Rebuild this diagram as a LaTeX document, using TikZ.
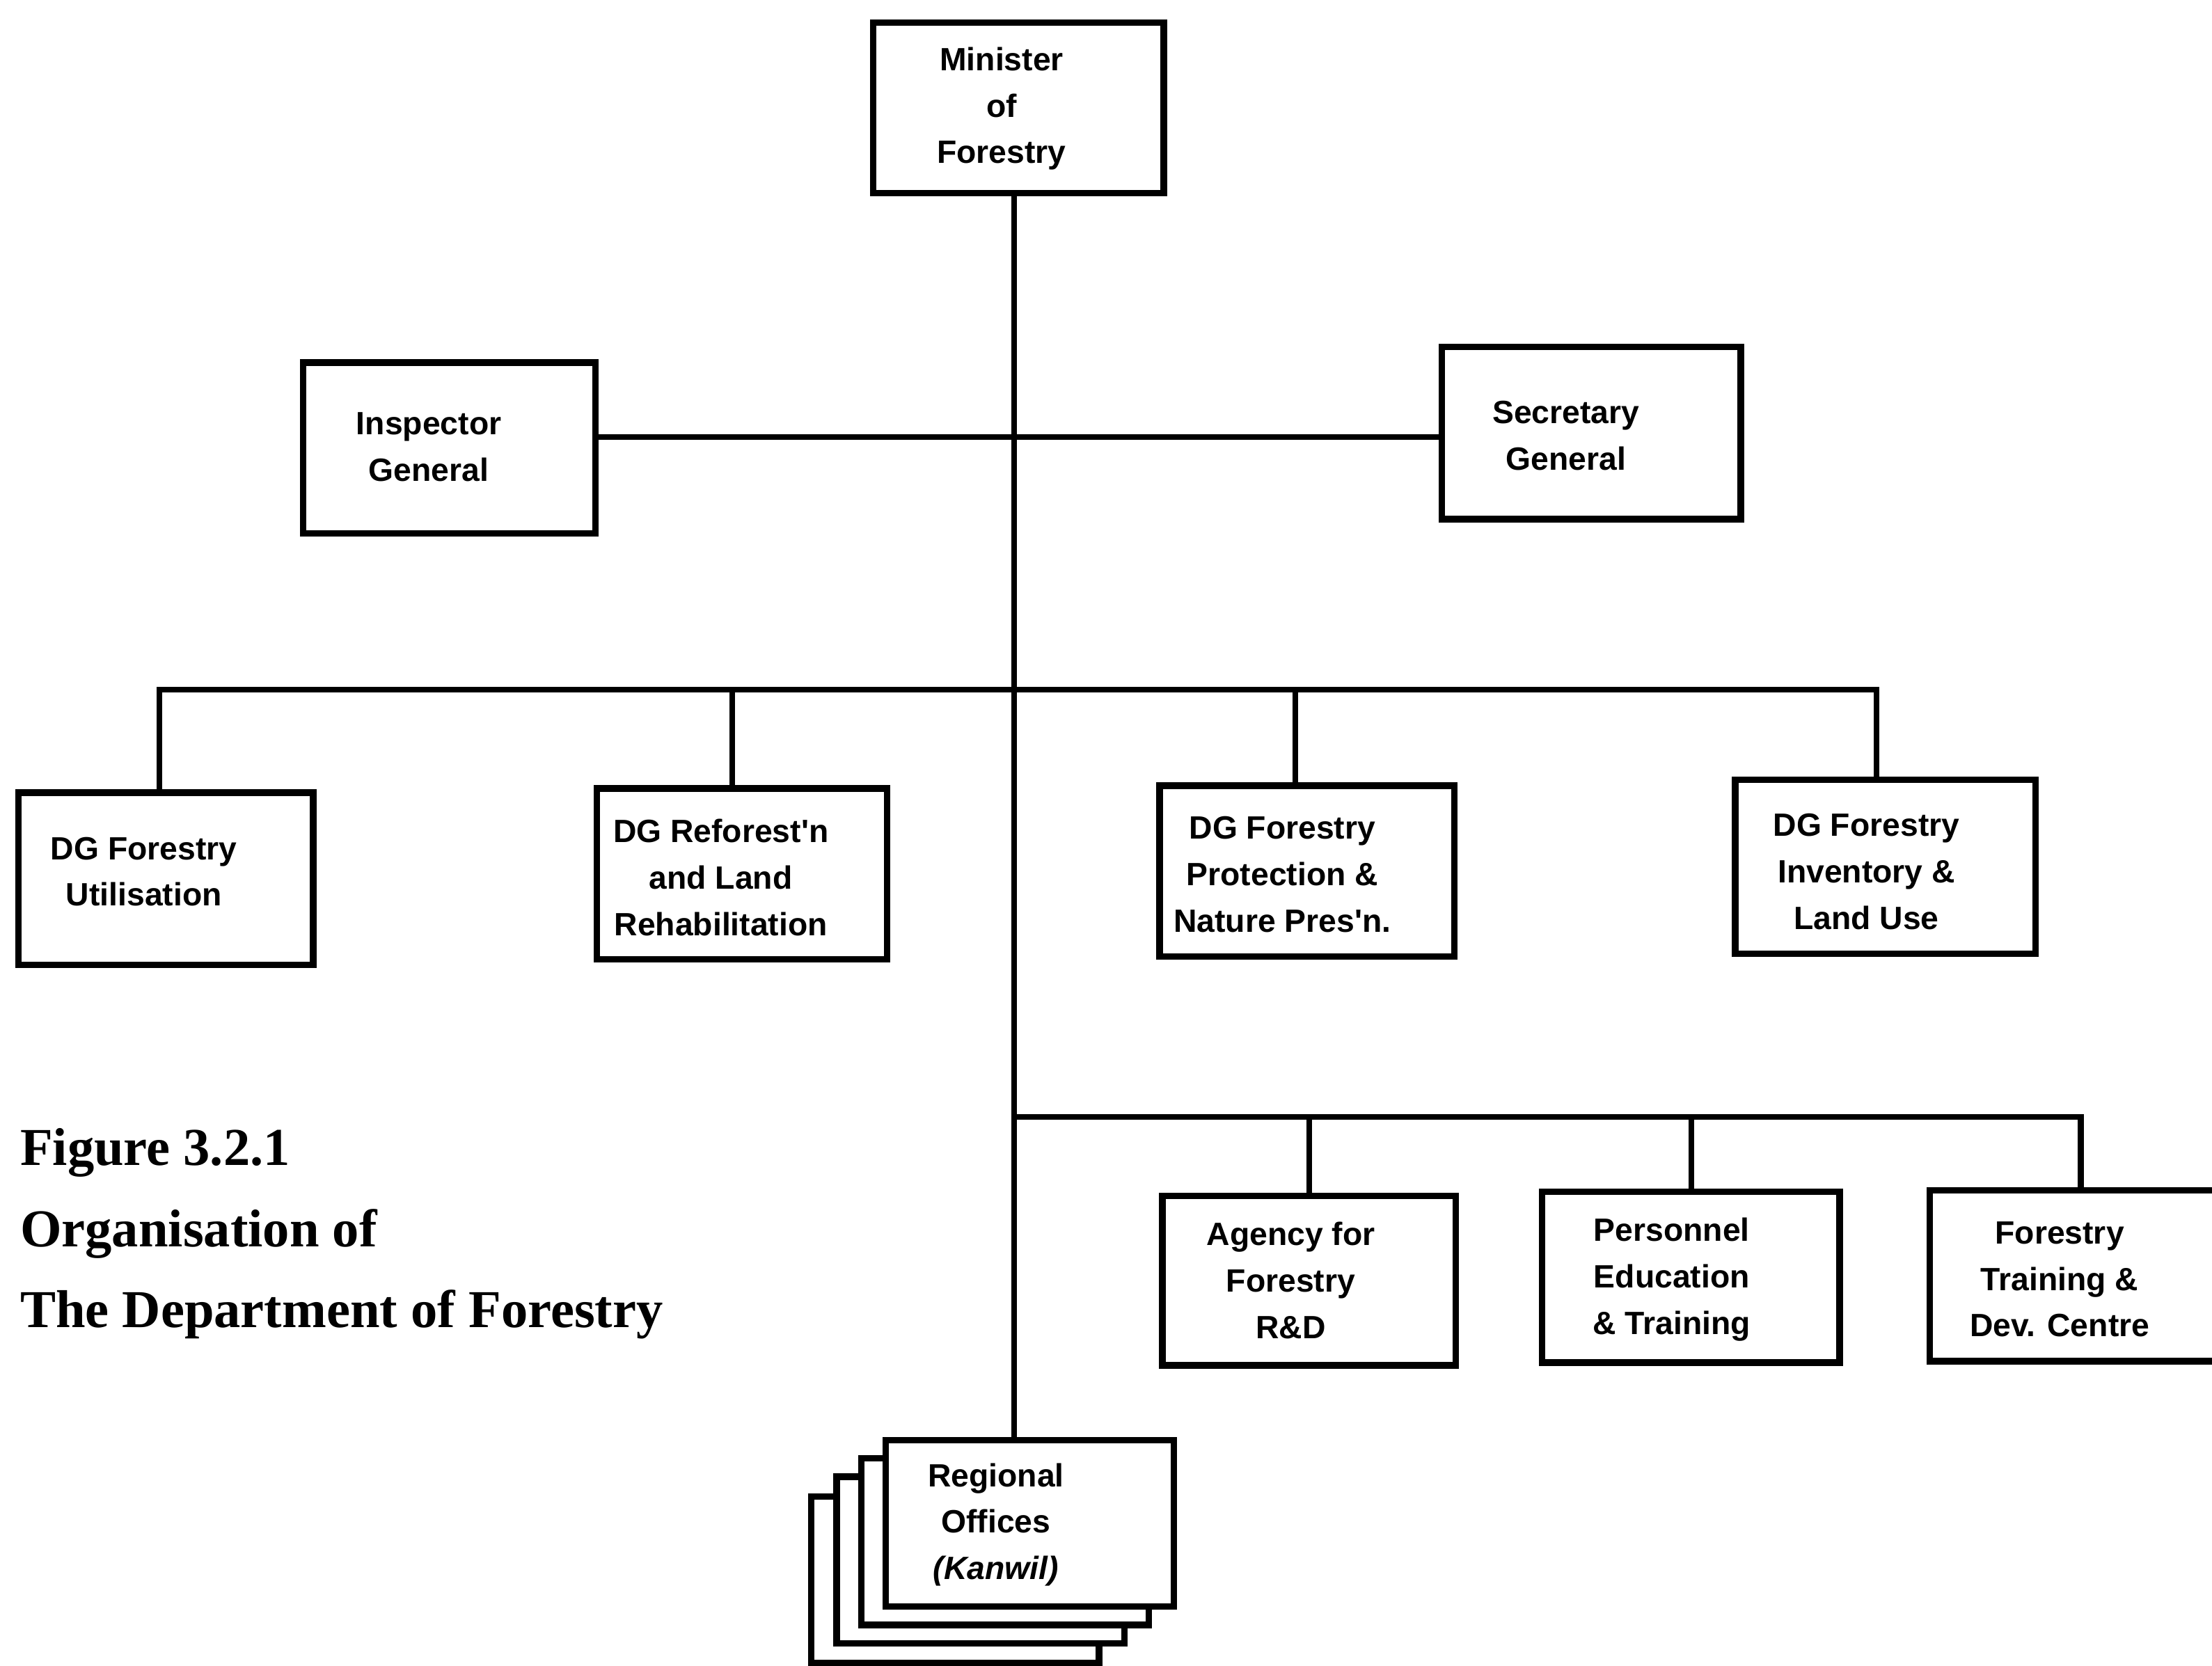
\documentclass[tikz,border=0pt]{standalone}
\usepackage{fontspec}
\setmainfont{Liberation Serif}
\newfontfamily\boxfont{Liberation Sans}
\tikzset{
  orgbox/.style={draw=black, line width=2.6pt, fill=white, rectangle, inner sep=0pt},
  orgtext/.style={font=\boxfont\bfseries\fontsize{13}{18.8}\selectfont, align=center, inner sep=0pt},
  link/.style={draw=black, line width=2.3pt},
  captext/.style={font=\bfseries\fontsize{21.5}{33}\selectfont, anchor=base west, inner sep=0pt}
}
\begin{document}
\begin{tikzpicture}[x=0.02cm,y=-0.02cm]
\clip (0,0) rectangle (1568,1181);
\fill[white] (0,0) rectangle (1568,1181);

% boxes
\node[orgbox, minimum width=206*0.02cm, minimum height=121*0.02cm] (min) at (722,76.5) {};
\node[orgbox, minimum width=207*0.02cm, minimum height=121*0.02cm] (ig) at (318.5,317.5) {};
\node[orgbox, minimum width=212*0.02cm, minimum height=122*0.02cm] (sg) at (1128,307) {};
\node[orgbox, minimum width=209*0.02cm, minimum height=122*0.02cm] (dg1) at (117.5,623) {};
\node[orgbox, minimum width=206*0.02cm, minimum height=121*0.02cm] (dg2) at (526,619.5) {};
\node[orgbox, minimum width=209*0.02cm, minimum height=121*0.02cm] (dg3) at (926.5,617.5) {};
\node[orgbox, minimum width=213*0.02cm, minimum height=123*0.02cm] (dg4) at (1336.5,614.5) {};
\node[orgbox, minimum width=208*0.02cm, minimum height=120*0.02cm] (ag) at (928,908) {};
\node[orgbox, minimum width=211*0.02cm, minimum height=121*0.02cm] (pe) at (1198.5,905.5) {};
\node[orgbox, minimum width=210*0.02cm, minimum height=121*0.02cm] (ft) at (1473,904.5) {};

% regional offices stack (back to front)
\node[orgbox, minimum width=204*0.02cm, minimum height=118*0.02cm] (ro3) at (677,1120) {};
\node[orgbox, minimum width=204*0.02cm, minimum height=118*0.02cm] (ro2) at (695,1106) {};
\node[orgbox, minimum width=204*0.02cm, minimum height=118*0.02cm] (ro1) at (712.5,1093) {};
\node[orgbox, minimum width=204*0.02cm, minimum height=118*0.02cm] (ro) at (730,1080) {};

% texts
\node[orgtext] (tmin) at (710,77) {Minister\\ of\\ Forestry};
\node[orgtext] (tig) at (304,317) {Inspector\\ General};
\node[orgtext] (tsg) at (1110,309) {Secretary\\ General};
\node[orgtext] (tdg1) at (102,618) {DG Forestry\\ Utilisation};
\node[orgtext] (tdg2) at (511,622) {DG Reforest'n\\ and Land\\ Rehabilitation};
\node[orgtext] (tdg3) at (909,620) {DG Forestry\\ Protection \&\\ Nature Pres'n.};
\node[orgtext] (tdg4) at (1323,618) {DG Forestry\\ Inventory \&\\ Land Use};
\node[orgtext] (tag) at (915,908) {Agency for\\ Forestry\\ R\&D};
\node[orgtext] (tpe) at (1185,907) {Personnel\\ Education\\ \& Training};
\node[orgtext] (tft) at (1460,907) {Forestry\\ Training \&\\ Dev. Centre};
\node[orgtext] (tro) at (706,1081) {Regional\\ Offices\\ {\itshape (Kanwil)}};

% connector coordinates
\coordinate (spine) at (719,0);
\coordinate (hy) at (0,310);
\coordinate (d1) at (113,489);
\coordinate (d2) at (519,489);
\coordinate (d3) at (918,489);
\coordinate (d4) at (1330,489);
\coordinate (l0) at (719,792);
\coordinate (l1) at (928,792);
\coordinate (l2) at (1199,792);
\coordinate (l3) at (1475,792);

% connectors
\draw[link] (min.south -| spine) -- (ro.north -| spine);
\draw[link] (ig.east |- hy) -- (sg.west |- hy);
\draw[link] (d1 |- dg1.north) -- (d1) -- (d4) -- (d4 |- dg4.north);
\draw[link] (d2) -- (d2 |- dg2.north);
\draw[link] (d3) -- (d3 |- dg3.north);
\draw[link] (l0) -- (l3) -- (l3 |- ft.north);
\draw[link] (l1) -- (l1 |- ag.north);
\draw[link] (l2) -- (l2 |- pe.north);

% caption
\node[captext] (cap1) at (14,826) {Figure 3.2.1};
\node[captext] (cap2) at (14,884) {Organisation of};
\node[captext] (cap3) at (14,941) {The Department of Forestry};
\end{tikzpicture}
\end{document}
